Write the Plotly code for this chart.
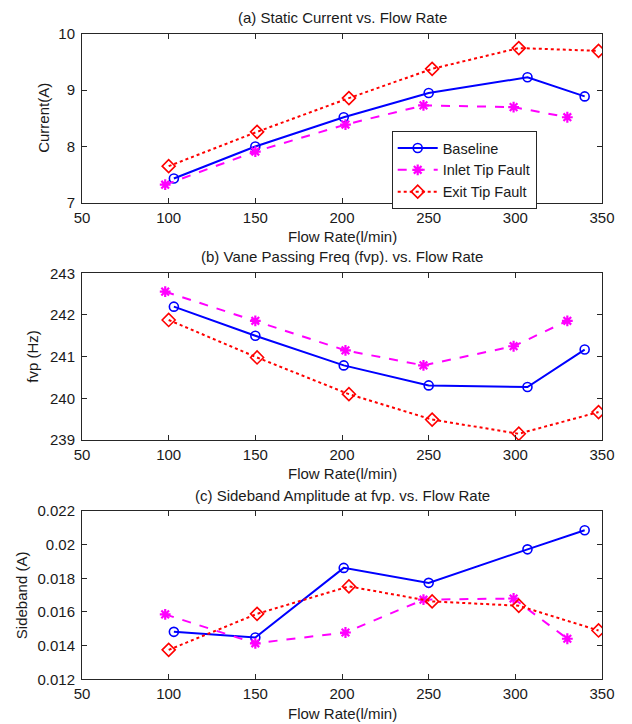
import plotly.graph_objects as go
from plotly.subplots import make_subplots

# Flow rates (l/min) per series
x_baseline = [103, 150, 201, 250, 307, 340]
x_inlet = [98, 150, 202, 247, 299, 330]
x_exit = [100, 151, 204, 252, 302, 348]

# (a) Static current (A)
cur_baseline = [7.43, 8.00, 8.52, 8.95, 9.23, 8.89]
cur_inlet = [7.32, 7.91, 8.39, 8.73, 8.70, 8.52]
cur_exit = [7.65, 8.26, 8.86, 9.38, 9.75, 9.70]

# (b) Vane passing frequency (Hz)
fvp_baseline = [242.20, 241.50, 240.79, 240.31, 240.27, 241.17]
fvp_inlet = [242.56, 241.86, 241.15, 240.79, 241.25, 241.86]
fvp_exit = [241.88, 240.98, 240.10, 239.49, 239.15, 239.67]

# (c) Sideband amplitude (A)
sb_baseline = [0.01482, 0.01448, 0.01862, 0.01773, 0.01972, 0.02086]
sb_inlet = [0.01586, 0.01414, 0.01478, 0.01673, 0.01680, 0.01441]
sb_exit = [0.01375, 0.01589, 0.01752, 0.01663, 0.01637, 0.01490]

series_names = ["Baseline", "Inlet Tip Fault", "Exit Tip Fault"]
panel_titles = ["(a) Static Current vs. Flow Rate",
                "(b) Vane Passing Freq (fvp). vs. Flow Rate",
                "(c) Sideband Amplitude at fvp. vs. Flow Rate"]
y_titles = ["Current(A)", "fvp (Hz)", "Sideband (A)"]
x_title = "Flow Rate(l/min)"
x_ticks = [50, 100, 150, 200, 250, 300, 350]
y_ticks_a = [7, 8, 9, 10]
y_ticks_b = [239, 240, 241, 242, 243]
y_ticks_c = [0.012, 0.014, 0.016, 0.018, 0.020, 0.022]
y_ticktext_c = ["0.012", "0.014", "0.016", "0.018", "0.02", "0.022"]

FONT = "Liberation Sans, Arial, sans-serif"
OFF = 8            # page body margin offset
W, H = 632 - OFF, 724 - OFF
L = 82 - OFF
R = W - (602 - OFF)
PW = W - L - R

styles = [
    dict(color="#0000FF", dash="solid", width=2, symbol="circle-open", size=9, mlw=1.6),
    dict(color="#FF00FF", dash="dash", width=2, symbol="asterisk-open", size=9, mlw=2.2),
    dict(color="#FF0000", dash="dot", width=2, symbol="diamond-open", size=10, mlw=1.6),
]

fig = make_subplots(rows=3, cols=1)

xs = [x_baseline, x_inlet, x_exit]
data = [
    [cur_baseline, cur_inlet, cur_exit],
    [fvp_baseline, fvp_inlet, fvp_exit],
    [sb_baseline, sb_inlet, sb_exit],
]

for r in range(3):
    for i in range(3):
        s = styles[i]
        fig.add_trace(go.Scatter(
            x=xs[i], y=data[r][i], mode="lines+markers", name=series_names[i],
            showlegend=(r == 0),
            line=dict(color=s["color"], dash=s["dash"], width=s["width"]),
            marker=dict(symbol=s["symbol"], size=s["size"], color=s["color"],
                        line=dict(color=s["color"], width=s["mlw"])),
        ), row=r + 1, col=1)

def ypix(p):
    return 1 - (p - OFF) / H

def xpix(p):
    return (p - OFF - L) / PW

domains = [(202.7, 34), (440, 273.3), (679.3, 511)]
ranges = [[7, 10], [239, 243], [0.012, 0.022]]
yticks = [y_ticks_a, y_ticks_b, y_ticks_c]
yticktexts = [[str(v) for v in y_ticks_a], [str(v) for v in y_ticks_b], y_ticktext_c]

axis_common = dict(showline=True, linecolor="#262626", linewidth=1, mirror="ticks",
                   ticks="inside", ticklen=5, tickcolor="#262626", showgrid=False,
                   zeroline=False, automargin=False,
                   tickfont=dict(family=FONT, size=15, color="#1a1a1a"))

for r in range(3):
    bot, top = domains[r]
    fig.update_xaxes(domain=[0, 1], range=[50, 350], tickvals=x_ticks,
                     ticklabelstandoff=1, **axis_common, row=r + 1, col=1)
    fig.update_yaxes(domain=[ypix(bot), ypix(top)], range=ranges[r],
                     tickvals=yticks[r], ticktext=yticktexts[r],
                     ticklabelstandoff=3, **axis_common, row=r + 1, col=1)

annotations = []
title_y = [17.3, 256.7, 495]
xt_y = [236.7, 473.3, 713.3]
yt_x = [43.5, 33, 21]
for r in range(3):
    annotations.append(dict(text=panel_titles[r], xref="paper", yref="paper",
                            x=0.5, y=ypix(title_y[r]), xanchor="center", yanchor="middle",
                            showarrow=False, font=dict(family=FONT, size=15, color="#1a1a1a")))
    annotations.append(dict(text=x_title, xref="paper", yref="paper",
                            x=0.5, y=ypix(xt_y[r]), xanchor="center", yanchor="middle",
                            showarrow=False, font=dict(family=FONT, size=15, color="#1a1a1a")))
    bot, top = domains[r]
    annotations.append(dict(text=y_titles[r], xref="paper", yref="paper",
                            x=xpix(yt_x[r]), y=ypix((bot + top) / 2),
                            xanchor="center", yanchor="middle", textangle=-90,
                            showarrow=False, font=dict(family=FONT, size=15, color="#1a1a1a")))

fig.update_layout(
    width=W, height=H,
    margin=dict(l=L, r=R, t=0, b=0, pad=0, autoexpand=False),
    paper_bgcolor="white", plot_bgcolor="white",
    font=dict(family=FONT, size=15, color="#1a1a1a"),
    annotations=annotations,
    legend=dict(x=xpix(391.7), y=ypix(131), xanchor="left", yanchor="top",
                bgcolor="white", bordercolor="#262626", borderwidth=1,
                font=dict(family=FONT, size=14.5, color="#1a1a1a"),
                tracegroupgap=0, itemwidth=40),
)

fig.write_html("out.html")
